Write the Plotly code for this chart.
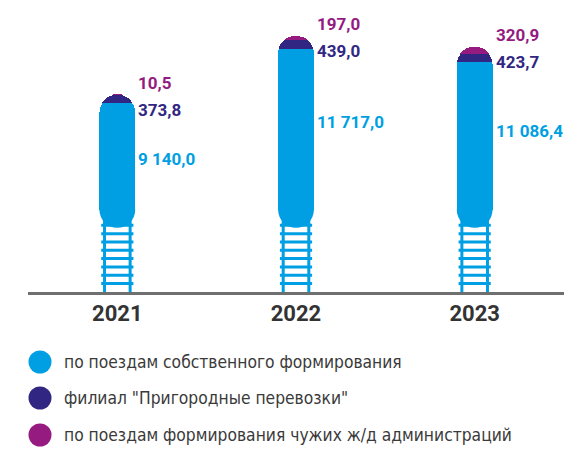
import numpy as np
import plotly.graph_objects as go

# ---------------- data ----------------
years = ["2021", "2022", "2023"]
own_trains = [9140.0, 11717.0, 11086.4]        # по поездам собственного формирования
suburban_branch = [373.8, 439.0, 423.7]       # филиал "Пригородные перевозки"
foreign_trains = [10.5, 197.0, 320.9]         # по поездам формирования чужих ж/д администраций
series_names = [
    "по поездам собственного формирования",
    'филиал "Пригородные перевозки"',
    "по поездам формирования чужих ж/д администраций",
]

# ---------------- style ----------------
C_OWN = "#009fe3"
C_BRANCH = "#312783"
C_FOREIGN = "#951b81"
C_AXIS = "#6f6f6f"
C_TEXT = "#3a3a3a"
FONT_NUM = "Roboto, Liberation Sans, sans-serif"
FONT_LEG = "DejaVu Sans Condensed, DejaVu Sans, sans-serif"

W, H = 564, 450
ML, MR, MT, MB = 28, 0, 20, 158
PLOT_W = W - ML - MR
PLOT_H = H - MT - MB
YMAX = 13130.0
XMIN, XMAX = -0.5, 2.5
BAR_W = 0.2
PX_PER_X = PLOT_W / (XMAX - XMIN)


def val(px):
    """pixels above the baseline -> value on the y axis"""
    return px * YMAX / PLOT_H


def fmt(v):
    return f"{v:,.1f}".replace(",", " ").replace(".", ",")


x = list(range(len(years)))
bar_px = BAR_W * PX_PER_X
base = val(82)                      # centre of the rounded bottom of each capsule
rail_dx = 12.8 / PX_PER_X
tie_levels = np.linspace(val(8.4), val(66.7), 8)

fig = go.Figure()

# invisible lower part of the stack (railway area)
fig.add_trace(go.Bar(x=x, y=[base] * len(x), width=BAR_W,
                     marker=dict(color="rgba(0,0,0,0)", line_width=0),
                     showlegend=False, hoverinfo="skip"))
fig.add_trace(go.Bar(x=x, y=[v - base for v in own_trains], width=BAR_W,
                     marker=dict(color=C_OWN, line_width=0), name=series_names[0],
                     showlegend=False))
fig.add_trace(go.Bar(x=x, y=suburban_branch, width=BAR_W,
                     marker=dict(color=C_BRANCH, line_width=0), name=series_names[1],
                     showlegend=False))
fig.add_trace(go.Bar(x=x, y=foreign_trains, width=BAR_W,
                     marker=dict(color=C_FOREIGN, line_width=0), name=series_names[2],
                     showlegend=False))

# rails
rx, ry = [], []
for i in x:
    for s in (-1, 1):
        rx += [i + s * rail_dx, i + s * rail_dx, None]
        ry += [0, base, None]
fig.add_trace(go.Scatter(x=rx, y=ry, mode="lines", line=dict(color=C_OWN, width=3),
                         showlegend=False, hoverinfo="skip"))
# sleepers
tx, ty = [], []
for i in x:
    for t in tie_levels:
        tx.append(i)
        ty.append(t)
fig.add_trace(go.Scatter(x=tx, y=ty, mode="markers",
                         marker=dict(symbol="line-ew", size=23,
                                     line=dict(color=C_OWN, width=3)),
                         showlegend=False, hoverinfo="skip"))
# rounded bottom of each capsule
fig.add_trace(go.Scatter(x=x, y=[base] * len(x), mode="markers",
                         marker=dict(symbol="circle", size=bar_px, color=C_OWN,
                                     line_width=0),
                         showlegend=False, hoverinfo="skip"))

# value labels
ann = []
lab_x_off = BAR_W / 2
NUM_SIZE = 17
for i in x:
    total = own_trains[i] + suburban_branch[i] + foreign_trains[i]
    ann.append(dict(x=i + lab_x_off, y=total, xref="x", yref="y", xanchor="left",
                    yanchor="middle", xshift=1, yshift=12, showarrow=False,
                    text=f"<b>{fmt(foreign_trains[i])}</b>",
                    font=dict(family=FONT_NUM, size=NUM_SIZE, color=C_FOREIGN)))
    ann.append(dict(x=i + lab_x_off, y=total, xref="x", yref="y", xanchor="left",
                    yanchor="middle", xshift=1, yshift=-15, showarrow=False,
                    text=f"<b>{fmt(suburban_branch[i])}</b>",
                    font=dict(family=FONT_NUM, size=NUM_SIZE, color=C_BRANCH)))
    ann.append(dict(x=i + lab_x_off, y=own_trains[i] * 0.7, xref="x", yref="y",
                    xanchor="left", yanchor="middle", xshift=1, showarrow=False,
                    text=f"<b>{fmt(own_trains[i])}</b>",
                    font=dict(family=FONT_NUM, size=NUM_SIZE, color=C_OWN)))

# legend (drawn manually: large round markers)
shapes = []
legend_colors = [C_OWN, C_BRANCH, C_FOREIGN]
legend_px_y = [362, 398, 435]
for name, col, py in zip(series_names, legend_colors, legend_px_y):
    yp = (H - MB - py) / PLOT_H
    xp = (40 - ML) / PLOT_W
    shapes.append(dict(type="circle", xref="paper", yref="paper",
                       xsizemode="pixel", ysizemode="pixel",
                       xanchor=xp, yanchor=yp, x0=-11.5, x1=11.5, y0=-11.5, y1=11.5,
                       fillcolor=col, line_width=0))
    ann.append(dict(x=(62 - ML) / PLOT_W, y=yp, xref="paper", yref="paper",
                    xanchor="left", yanchor="middle", showarrow=False, text=name,
                    font=dict(family=FONT_LEG, size=17.3, color=C_TEXT)))

fig.update_layout(
    width=W, height=H,
    margin=dict(l=ML, r=MR, t=MT, b=MB, pad=0),
    paper_bgcolor="white", plot_bgcolor="white",
    barmode="stack", barcornerradius="50%",
    showlegend=False,
    annotations=ann, shapes=shapes,
    font=dict(family=FONT_LEG),
)
fig.update_xaxes(range=[XMIN, XMAX], tickvals=x, ticktext=[f"<b>{y}</b>" for y in years],
                 tickfont=dict(family=FONT_NUM, size=22, color="#333333"),
                 showgrid=False, zeroline=False, showline=True, linecolor=C_AXIS,
                 linewidth=2.5, ticks="", ticklabelstandoff=0)
fig.update_yaxes(range=[0, YMAX], visible=False, showgrid=False, zeroline=False)

fig.write_html("out.html")
